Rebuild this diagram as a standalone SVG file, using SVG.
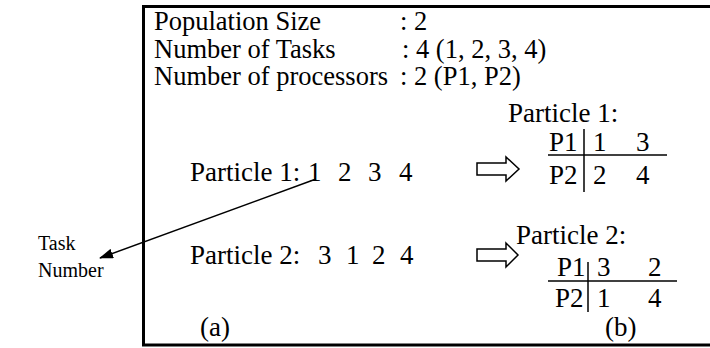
<svg xmlns="http://www.w3.org/2000/svg" width="710" height="348" viewBox="0 0 710 348">
<style>
text { font-family: "Liberation Serif", "Times New Roman", serif; fill: #000; }
.m { font-size: 27px; }
.h { font-size: 26.5px; }
.s { font-size: 20px; }
.ln { stroke: #000; stroke-width: 1.5; fill: none; }
.harrow { fill: #fff; stroke: #000; stroke-width: 1.5; }
</style>
<defs>
<marker id="ah" viewBox="0 0 14 10" refX="13" refY="5" markerWidth="14" markerHeight="10" markerUnits="userSpaceOnUse" orient="auto">
<path d="M0,0 L14,5 L0,10 z" fill="#000"/>
</marker>
</defs>
<rect id="frame" x="143.5" y="6.5" width="570" height="338.5" fill="none" stroke="#000" stroke-width="3"/>
<g id="header">
<text class="h" x="154" y="30">Population Size</text>
<text class="h" x="400" y="30">: 2</text>
<text class="h" x="154" y="58">Number of Tasks</text>
<text class="h" x="402" y="58">: 4 (1, 2, 3, 4)</text>
<text class="h" x="154" y="85">Number of processors</text>
<text class="h" x="400" y="85">: 2 (P1, P2)</text>
</g>
<g id="particle1-a">
<text class="m" x="190" y="181">Particle 1:</text>
<text class="m" x="308" y="181">1</text>
<text class="m" x="338" y="181">2</text>
<text class="m" x="368" y="181">3</text>
<text class="m" x="399" y="181">4</text>
</g>
<g id="particle2-a">
<text class="m" x="190" y="264">Particle 2:</text>
<text class="m" x="318" y="264">3</text>
<text class="m" x="346" y="264">1</text>
<text class="m" x="372" y="264">2</text>
<text class="m" x="400" y="264">4</text>
</g>
<g id="task-number">
<text class="s" x="38" y="250">Task</text>
<text class="s" x="38" y="277">Number</text>
</g>
<g id="particle1-b">
<text class="m" x="508" y="122">Particle 1:</text>
<text class="m" x="549" y="151">P1</text>
<text class="m" x="593" y="151">1</text>
<text class="m" x="636" y="151">3</text>
<text class="m" x="549" y="184">P2</text>
<text class="m" x="593" y="184">2</text>
<text class="m" x="636" y="184">4</text>
<line class="ln" x1="548" y1="155" x2="667" y2="155"/>
<line class="ln" x1="584" y1="129" x2="584" y2="192"/>
</g>
<g id="particle2-b">
<text class="m" x="516" y="244">Particle 2:</text>
<text class="m" x="557" y="276">P1</text>
<text class="m" x="597" y="276">3</text>
<text class="m" x="648" y="276">2</text>
<text class="m" x="555" y="307">P2</text>
<text class="m" x="597" y="307">1</text>
<text class="m" x="648" y="307">4</text>
<line class="ln" x1="548" y1="281" x2="677" y2="281"/>
<line class="ln" x1="588" y1="262" x2="588" y2="312"/>
<text class="m" x="605" y="336">(b)</text>
</g>
<g id="label-a">
<text class="m" x="200" y="336">(a)</text>
</g>
<g id="connectors">
<line class="ln" x1="316" y1="179" x2="100" y2="258" stroke-width="2" marker-end="url(#ah)"/>
<path class="harrow" d="M477,163 L506,163 L506,157 L519,169 L506,181 L506,175 L477,175 z"/>
<path class="harrow" d="M477,249 L506,249 L506,243 L518,255 L506,267 L506,261 L477,261 z"/>
</g>
</svg>
